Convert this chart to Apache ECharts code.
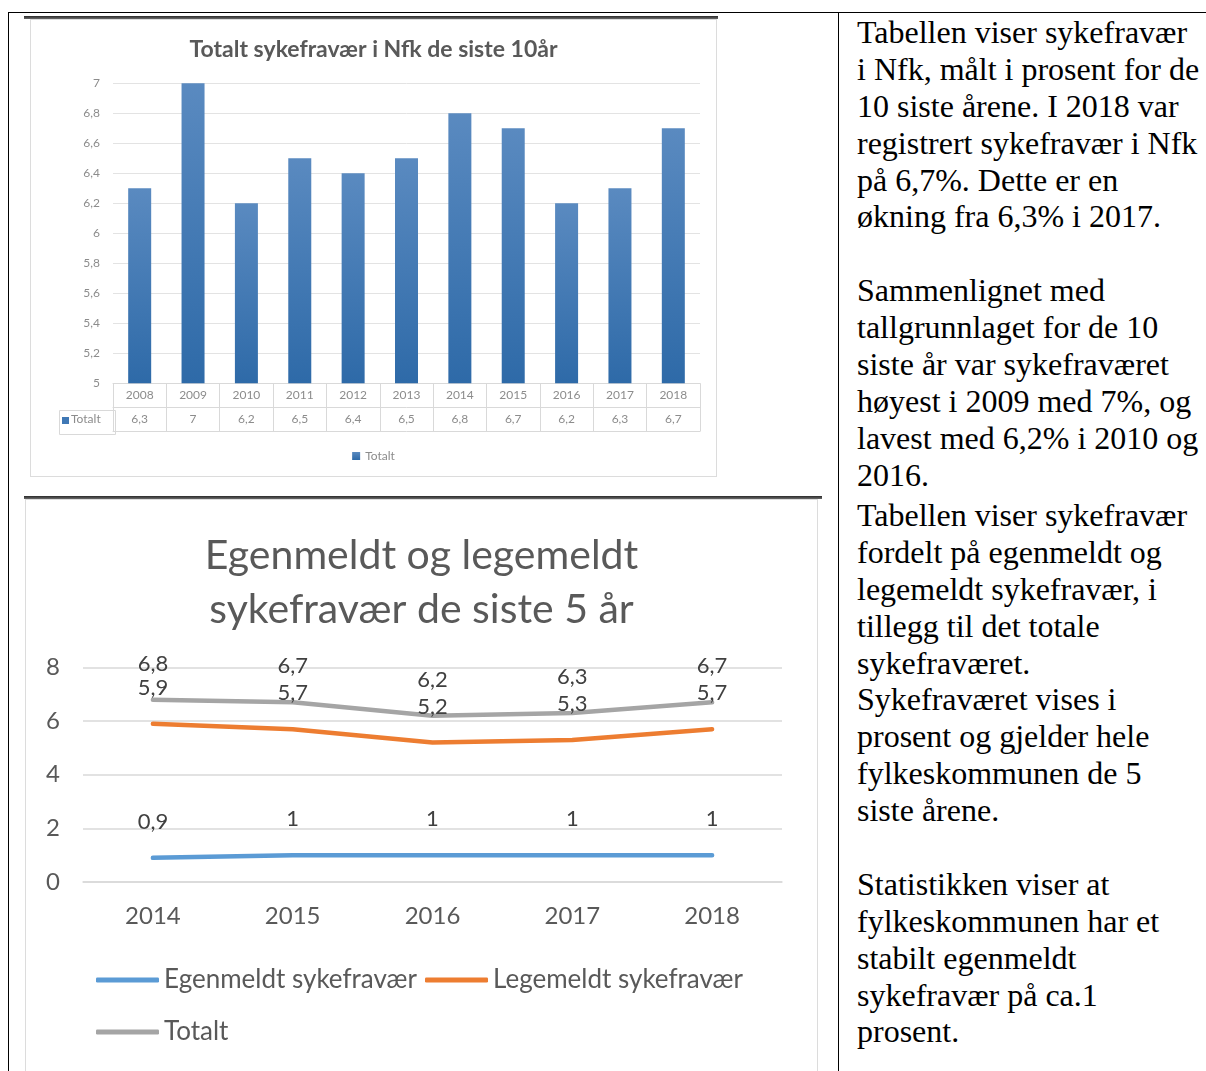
<!DOCTYPE html>
<html>
<head>
<meta charset="utf-8">
<script src="https://cdn.jsdelivr.net/npm/echarts@6/dist/echarts.min.js"></script>
<style>
  html, body { margin: 0; padding: 0; background: #fff; width: 1206px; height: 1071px; overflow: hidden; }
  .abs { position: absolute; }
  .hl { position: absolute; height: 1px; background: #000; }
  .vl { position: absolute; width: 1px; background: #000; }
  .txt { position: absolute; left: 857px; font-family: "Liberation Serif", "Times New Roman", serif; font-size: 32px; line-height: 36.9px; color: #000; white-space: nowrap; }
  .txt div { height: 36.9px; }
</style>
</head>
<body>
<!-- document table lines -->
<div class="hl" style="left:8px; top:12px; width:1198px;"></div>
<div class="vl" style="left:8px; top:12px; height:1059px;"></div>
<div class="vl" style="left:838px; top:12px; height:1059px;"></div>

<!-- picture 1 -->
<div class="abs" style="left:24px; top:16px; width:694px; height:3px; background:linear-gradient(#2a2a2a,#6a6a6a);"></div>
<div class="abs" style="left:30px; top:19px; width:687px; height:458px; box-sizing:border-box; border:1px solid #dcdcdc;"></div>
<div id="c1" class="abs" style="left:30px; top:19px; width:687px; height:458px;"></div>

<!-- picture 2 -->
<div class="abs" style="left:24px; top:496px; width:798px; height:3px; background:linear-gradient(#2a2a2a,#6a6a6a);"></div>
<div class="abs" style="left:25px; top:499px; width:793px; height:600px; box-sizing:border-box; border:1px solid #dcdcdc;"></div>
<div id="c2" class="abs" style="left:25px; top:499px; width:793px; height:572px;"></div>

<!-- text column -->
<div class="txt" style="top:14px;">
  <div>Tabellen viser sykefravær</div>
  <div>i Nfk, målt i prosent for de</div>
  <div>10 siste årene. I 2018 var</div>
  <div>registrert sykefravær i Nfk</div>
  <div>på 6,7%. Dette er en</div>
  <div>økning fra 6,3% i 2017.</div>
  <div></div>
  <div>Sammenlignet med</div>
  <div>tallgrunnlaget for de 10</div>
  <div>siste år var sykefraværet</div>
  <div>høyest i 2009 med 7%, og</div>
  <div>lavest med 6,2% i 2010 og</div>
  <div>2016.</div>
</div>
<div class="txt" style="top:497px;">
  <div>Tabellen viser sykefravær</div>
  <div>fordelt på egenmeldt og</div>
  <div>legemeldt sykefravær, i</div>
  <div>tillegg til det totale</div>
  <div>sykefraværet.</div>
  <div>Sykefraværet vises i</div>
  <div>prosent og gjelder hele</div>
  <div>fylkeskommunen de 5</div>
  <div>siste årene.</div>
  <div></div>
  <div>Statistikken viser at</div>
  <div>fylkeskommunen har et</div>
  <div>stabilt egenmeldt</div>
  <div>sykefravær på ca.1</div>
  <div>prosent.</div>
</div>

<script>
// ---- Data: chart 1 ----
const years10 = ['2008','2009','2010','2011','2012','2013','2014','2015','2016','2017','2018'];
const totals10 = [6.3, 7, 6.2, 6.5, 6.4, 6.5, 6.8, 6.7, 6.2, 6.3, 6.7];
const title1 = 'Totalt sykefravær i Nfk de siste 10år';
const seriesName1 = 'Totalt';
const yMin1 = 5, yMax1 = 7, yStep1 = 0.2;

// ---- Data: chart 2 ----
const years5 = ['2014','2015','2016','2017','2018'];
const egenmeldt = [0.9, 1, 1, 1, 1];
const legemeldt = [5.9, 5.7, 5.2, 5.3, 5.7];
const totalt5 = [6.8, 6.7, 6.2, 6.3, 6.7];
const title2 = 'Egenmeldt og legemeldt\nsykefravær de siste 5 år';
const names2 = ['Egenmeldt sykefravær', 'Legemeldt sykefravær', 'Totalt'];
const yMin2 = 0, yMax2 = 8, yStep2 = 2;

const comma = v => String(+(+v).toFixed(1)).replace('.', ',');
const FONT = 'Lato, "Open Sans", sans-serif';

// ---------------- Chart 1 ----------------
const c1 = echarts.init(document.getElementById('c1'), null, { renderer: 'canvas' });
const barColor = new echarts.graphic.LinearGradient(0, 0, 0, 1, [
  { offset: 0, color: '#5a8ac0' },
  { offset: 1, color: '#2e6aa8' }
]);
c1.setOption({
  animation: false,
  textStyle: { fontFamily: FONT },
  title: {
    text: title1, left: 'center', top: 14,
    textStyle: { fontFamily: FONT, fontSize: 23, fontWeight: 'bold', color: '#595959' }
  },
  legend: {
    data: [seriesName1], left: 'center', top: 426,
    icon: 'rect', itemWidth: 8, itemHeight: 8,
    textStyle: { fontFamily: FONT, fontSize: 12, color: '#8c8c8c' }
  },
  grid: { left: 83, top: 64.3, width: 587, height: 300 },
  yAxis: {
    type: 'value', min: yMin1, max: yMax1, interval: yStep1,
    axisLine: { show: false }, axisTick: { show: false },
    axisLabel: { margin: 13, fontSize: 12, color: '#8c8c8c', fontFamily: FONT, formatter: comma },
    splitLine: { lineStyle: { color: '#e3e3e3', width: 1 } }
  },
  xAxis: [
    {
      type: 'category', data: years10, position: 'bottom',
      axisLine: { lineStyle: { color: '#d9d9d9' } },
      axisTick: { show: true, interval: 0, length: 48, lineStyle: { color: '#d9d9d9' } },
      axisLabel: { margin: 6, fontSize: 12, color: '#8c8c8c', fontFamily: FONT, interval: 0 }
    },
    {
      type: 'category', data: totals10.map(comma), position: 'bottom', offset: 24,
      axisLine: { lineStyle: { color: '#d9d9d9' } },
      axisTick: { show: false },
      axisLabel: { margin: 6, fontSize: 12, color: '#8c8c8c', fontFamily: FONT, interval: 0 }
    },
    {
      type: 'category', data: years10, position: 'bottom', offset: 48,
      axisLine: { lineStyle: { color: '#d9d9d9' } },
      axisTick: { show: false }, axisLabel: { show: false }
    }
  ],
  series: [{
    name: seriesName1, type: 'bar', data: totals10, xAxisIndex: 0,
    barWidth: 23, itemStyle: { color: barColor }
  }],
  graphic: [
    {
      type: 'rect', left: 27, top: 389,
      shape: { width: 56, height: 24 },
      style: { fill: 'none', stroke: '#d9d9d9', lineWidth: 1 }
    },
    {
      type: 'rect', left: 32, top: 398,
      shape: { width: 7, height: 7 },
      style: { fill: '#3f78b5' }
    },
    {
      type: 'text', left: 41, top: 394,
      style: { text: seriesName1, fill: '#8c8c8c', fontSize: 12, fontFamily: FONT }
    }
  ]
});

// ---------------- Chart 2 ----------------
const c2 = echarts.init(document.getElementById('c2'), null, { renderer: 'canvas' });
const lineColors = ['#5b9bd5', '#ed7d31', '#a5a5a5'];
const mkLine = (name, data, color) => ({
  name, type: 'line', data,
  symbol: 'circle', symbolSize: 0.1, showSymbol: true,
  itemStyle: { color },
  lineStyle: { color, width: 4.5, cap: 'round', join: 'round' },
  label: {
    show: true, position: 'top', distance: 25,
    fontFamily: FONT, fontSize: 22, color: '#404040',
    formatter: p => comma(p.value)
  },
  z: 3
});
c2.setOption({
  animation: false,
  textStyle: { fontFamily: FONT },
  color: lineColors,
  title: {
    text: title2, left: 'center', top: 25,
    textStyle: { fontFamily: FONT, fontSize: 41, fontWeight: 'normal', color: '#595959', lineHeight: 54 }
  },
  legend: [
    {
      data: [names2[0], names2[1]], left: 66, top: 463, itemGap: 8,
      icon: 'roundRect', itemWidth: 63, itemHeight: 5,
      textStyle: { fontFamily: FONT, fontSize: 26, color: '#595959' }
    },
    {
      data: [names2[2]], left: 66, top: 515,
      icon: 'roundRect', itemWidth: 63, itemHeight: 5,
      textStyle: { fontFamily: FONT, fontSize: 26, color: '#595959' }
    }
  ],
  grid: { left: 58, top: 168.5, width: 699, height: 214.5 },
  xAxis: {
    type: 'category', data: years5,
    axisLine: { show: true, lineStyle: { color: '#d9d9d9', width: 1.5 } },
    axisTick: { show: false },
    axisLabel: { margin: 22, fontSize: 24, color: '#595959', fontFamily: FONT }
  },
  yAxis: {
    type: 'value', min: yMin2, max: yMax2, interval: yStep2,
    axisLine: { show: false }, axisTick: { show: false },
    axisLabel: { margin: 23, fontSize: 24, color: '#595959', fontFamily: FONT },
    splitLine: { lineStyle: { color: '#d9d9d9', width: 1.5 } }
  },
  series: [
    mkLine(names2[0], egenmeldt, lineColors[0]),
    mkLine(names2[1], legemeldt, lineColors[1]),
    mkLine(names2[2], totalt5, lineColors[2])
  ]
});
</script>
</body>
</html>
